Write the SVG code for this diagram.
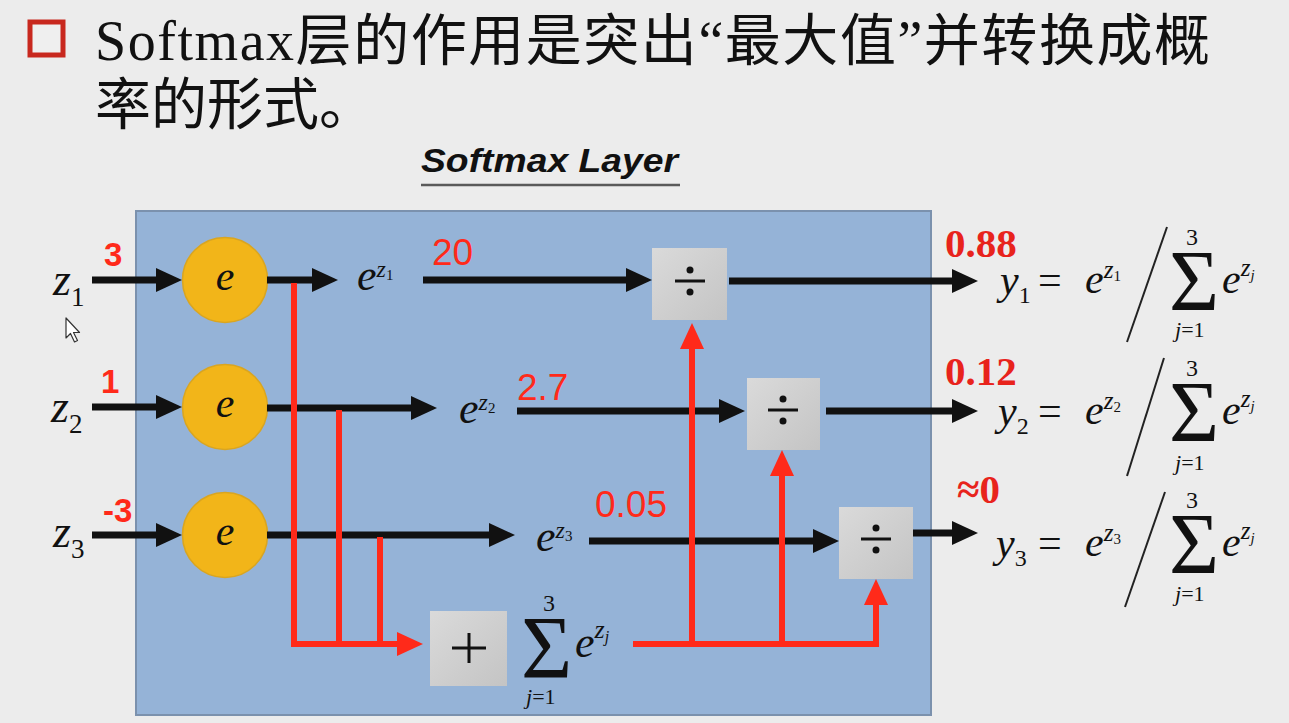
<svg xmlns="http://www.w3.org/2000/svg" width="1289" height="723" viewBox="0 0 1289 723">
<defs>
<marker id="ab" markerUnits="userSpaceOnUse" viewBox="0 0 26 26" refX="6" refY="13" markerWidth="26" markerHeight="26" orient="auto"><path d="M0,1 L26,13 L0,25 z" fill="#111"/></marker>
<marker id="ar" markerUnits="userSpaceOnUse" viewBox="0 0 26 26" refX="6" refY="13" markerWidth="26" markerHeight="26" orient="auto"><path d="M0,1 L26,13 L0,25 z" fill="#ff2a1a"/></marker>
<linearGradient id="gbox" x1="0" y1="0" x2="1" y2="1"><stop offset="0" stop-color="#dadada"/><stop offset="1" stop-color="#c4c4c4"/></linearGradient>
</defs>
<style>
.m{font-family:"Liberation Serif",serif;font-style:italic;fill:#111}
.u{font-family:"Liberation Serif",serif;font-style:normal;fill:#111}
.blk{stroke:#111;stroke-width:7;fill:none;marker-end:url(#ab)}
.red{stroke:#ff2a1a;stroke-width:6;fill:none;stroke-linejoin:miter}
.redA{stroke:#ff2a1a;stroke-width:6;fill:none;marker-end:url(#ar)}
.rn{font-family:"Liberation Sans",sans-serif;fill:#ff2a1a}
.rb{font-family:"Liberation Serif",serif;font-weight:bold;fill:#e8231c;font-size:41px}
.circ{fill:#f2b519;stroke:#d9a521;stroke-width:1.5}
.box{fill:url(#gbox)}
.op{stroke:#111;stroke-width:3}
.title{font-family:"Liberation Serif","Noto Sans CJK SC",serif;font-size:56px;fill:#111}
</style>
<rect width="1289" height="723" fill="#ececec"/>

<g id="heading">
<rect x="30" y="22" width="33" height="33" fill="#efefef" stroke="#c8281e" stroke-width="5"/>
<text class="title" x="95" y="60" textLength="1115" lengthAdjust="spacing">Softmax层的作用是突出“最大值”并转换成概</text>
<text class="title" x="95" y="124">率的形式。</text>
</g>

<g id="layer-title">
<text x="421" y="172" font-family="Liberation Sans, sans-serif" font-weight="bold" font-style="italic" font-size="34" fill="#111" textLength="257" lengthAdjust="spacingAndGlyphs">Softmax Layer</text>
<line x1="421" y1="185" x2="680" y2="185" stroke="#5a5a5a" stroke-width="2.5"/>
</g>

<g id="softmax-box">
<rect x="136" y="211" width="795" height="504" fill="#95b3d7" stroke="#7b91ad" stroke-width="2"/>
</g>

<g id="inputs">
<text class="m" x="53" y="295" font-size="46">z<tspan class="u" font-size="27" dy="11">1</tspan></text>
<text class="m" x="51" y="422" font-size="46">z<tspan class="u" font-size="27" dy="11">2</tspan></text>
<text class="m" x="53" y="547" font-size="46">z<tspan class="u" font-size="27" dy="11">3</tspan></text>
<text class="rn" x="104" y="266" font-size="33" font-weight="bold">3</text>
<text class="rn" x="101" y="393" font-size="33" font-weight="bold">1</text>
<text class="rn" x="103" y="522" font-size="33" font-weight="bold">-3</text>
</g>

<g id="exp1"><circle class="circ" cx="225" cy="280" r="42.5"/><text class="m" x="225" y="290" font-size="42" text-anchor="middle">e</text></g>
<g id="exp2"><circle class="circ" cx="225" cy="407" r="42.5"/><text class="m" x="225" y="417" font-size="42" text-anchor="middle">e</text></g>
<g id="exp3"><circle class="circ" cx="225" cy="535" r="42.5"/><text class="m" x="225" y="545" font-size="42" text-anchor="middle">e</text></g>

<g id="exp-labels">
<text class="m" x="357" y="290" font-size="44">e<tspan font-size="24" dy="-13">z</tspan><tspan class="u" font-size="15" dy="3">1</tspan></text>
<text class="m" x="459" y="423" font-size="44">e<tspan font-size="24" dy="-13">z</tspan><tspan class="u" font-size="15" dy="3">2</tspan></text>
<text class="m" x="536" y="551" font-size="44">e<tspan font-size="24" dy="-13">z</tspan><tspan class="u" font-size="15" dy="3">3</tspan></text>
<text class="rn" x="432" y="265" font-size="37">20</text>
<text class="rn" x="517" y="400" font-size="37">2.7</text>
<text class="rn" x="595" y="517" font-size="37">0.05</text>
</g>

<g id="div1"><rect class="box" x="652" y="248" width="75" height="72"/><line class="op" x1="675" y1="281" x2="705" y2="281"/><circle cx="690" cy="270" r="3.5" fill="#111"/><circle cx="690" cy="292" r="3.5" fill="#111"/></g>
<g id="div2"><rect class="box" x="747" y="378" width="73" height="72"/><line class="op" x1="768" y1="410" x2="798" y2="410"/><circle cx="783" cy="399" r="3.5" fill="#111"/><circle cx="783" cy="421" r="3.5" fill="#111"/></g>
<g id="div3"><rect class="box" x="839" y="507" width="74" height="72"/><line class="op" x1="861" y1="539" x2="891" y2="539"/><circle cx="876" cy="528" r="3.5" fill="#111"/><circle cx="876" cy="550" r="3.5" fill="#111"/></g>

<g id="sum"><rect class="box" x="430" y="611" width="77" height="75"/><line class="op" x1="452" y1="648" x2="486" y2="648"/><line class="op" x1="469" y1="633" x2="469" y2="663"/>
<text class="u" x="521" y="677" font-size="88">Σ</text>
<text class="u" x="543" y="611" font-size="24">3</text>
<text class="m" x="526" y="704" font-size="22">j<tspan class="u">=1</tspan></text>
<text class="m" x="575" y="657" font-size="44">e<tspan font-size="26" dy="-19">z</tspan><tspan font-size="16" dy="4">j</tspan></text>
</g>

<g id="connectors">
<line class="blk" x1="92" y1="280" x2="162" y2="280"/>
<line class="blk" x1="92" y1="407" x2="162" y2="407"/>
<line class="blk" x1="92" y1="535" x2="162" y2="535"/>
<line class="blk" x1="267" y1="280" x2="318" y2="280"/>
<line class="blk" x1="267" y1="408" x2="417" y2="408"/>
<line class="blk" x1="267" y1="535" x2="495" y2="535"/>
<line class="blk" x1="423" y1="280" x2="632" y2="280"/>
<line class="blk" x1="517" y1="411" x2="725" y2="411"/>
<line class="blk" x1="589" y1="541" x2="819" y2="541"/>
<line class="blk" x1="729" y1="281" x2="958" y2="281"/>
<line class="blk" x1="826" y1="411" x2="958" y2="411"/>
<line class="blk" x1="913" y1="533" x2="958" y2="533"/>
<path class="redA" d="M294,283 V644 H403"/>
<path class="red" d="M339,410 V644"/>
<path class="red" d="M380,537 V644"/>
<path class="redA" d="M633,644 H876 V599"/>
<path class="redA" d="M692,644 V343"/>
<path class="redA" d="M782,644 V470"/>
</g>

<g id="out1">
<text class="rb" x="945" y="257">0.88</text>
<text class="m" x="1000" y="294" font-size="42">y<tspan class="u" font-size="24" dy="9">1</tspan></text>
<text class="u" x="1038" y="294" font-size="42">=</text>
<text class="m" x="1085" y="293" font-size="42">e<tspan font-size="25" dy="-15">z</tspan><tspan class="u" font-size="15" dy="3">1</tspan></text>
<line x1="1167" y1="227" x2="1127" y2="342" stroke="#222" stroke-width="2"/>
<text class="u" x="1169" y="310" font-size="86">Σ</text>
<text class="u" x="1186" y="245" font-size="24">3</text>
<text class="m" x="1175" y="337" font-size="22">j<tspan class="u">=1</tspan></text>
<text class="m" x="1222" y="293" font-size="42">e<tspan font-size="25" dy="-17">z</tspan><tspan font-size="15" dy="4">j</tspan></text>
</g>
<g id="out2" transform="translate(0,131)">
<text class="rb" x="945" y="254">0.12</text>
<text class="m" x="998" y="294" font-size="42">y<tspan class="u" font-size="24" dy="9">2</tspan></text>
<text class="u" x="1038" y="294" font-size="42">=</text>
<text class="m" x="1085" y="293" font-size="42">e<tspan font-size="25" dy="-15">z</tspan><tspan class="u" font-size="15" dy="3">2</tspan></text>
<line x1="1164" y1="227" x2="1127" y2="345" stroke="#222" stroke-width="2"/>
<text class="u" x="1169" y="310" font-size="86">Σ</text>
<text class="u" x="1186" y="245" font-size="24">3</text>
<text class="m" x="1175" y="339" font-size="22">j<tspan class="u">=1</tspan></text>
<text class="m" x="1222" y="293" font-size="42">e<tspan font-size="25" dy="-17">z</tspan><tspan font-size="15" dy="4">j</tspan></text>
</g>
<g id="out3" transform="translate(0,263)">
<text class="rb" x="957" y="240">≈0</text>
<text class="m" x="996" y="294" font-size="42">y<tspan class="u" font-size="24" dy="9">3</tspan></text>
<text class="u" x="1038" y="294" font-size="42">=</text>
<text class="m" x="1085" y="293" font-size="42">e<tspan font-size="25" dy="-15">z</tspan><tspan class="u" font-size="15" dy="3">3</tspan></text>
<line x1="1165" y1="229" x2="1125" y2="344" stroke="#222" stroke-width="2"/>
<text class="u" x="1169" y="310" font-size="86">Σ</text>
<text class="u" x="1186" y="245" font-size="24">3</text>
<text class="m" x="1175" y="338" font-size="22">j<tspan class="u">=1</tspan></text>
<text class="m" x="1222" y="293" font-size="42">e<tspan font-size="25" dy="-17">z</tspan><tspan font-size="15" dy="4">j</tspan></text>
</g>

<path id="cursor" d="M66,318 L66,338 L70.5,333.5 L74.5,342 L77.5,340.5 L73.5,332.5 L79.5,332.5 Z" fill="#fff" stroke="#333" stroke-width="1.2" stroke-linejoin="round"/>
</svg>
